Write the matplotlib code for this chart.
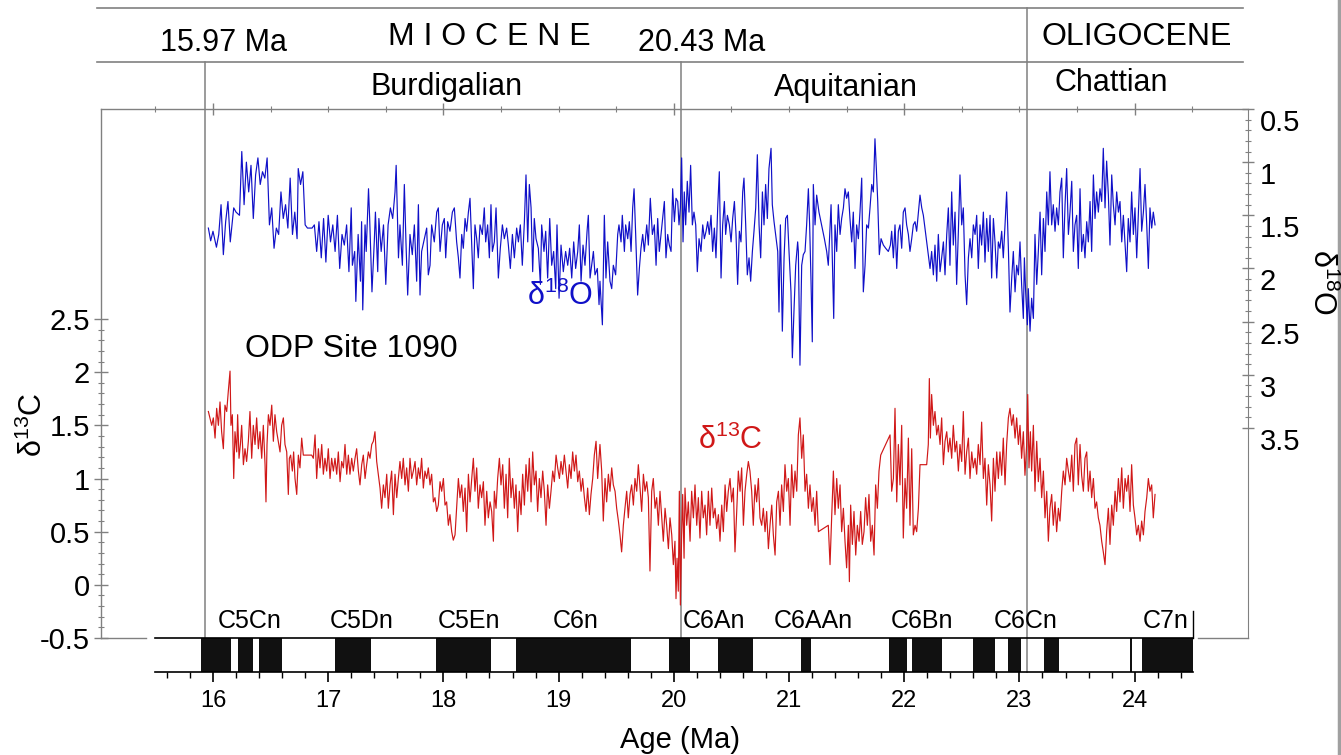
import numpy as np
import matplotlib
matplotlib.use("Agg")
import matplotlib.pyplot as plt
from matplotlib.lines import Line2D
from matplotlib.ticker import FixedLocator
import matplotlib.transforms as mtrans

plt.rcParams['font.family'] = ['Liberation Sans', 'DejaVu Sans']
plt.rcParams['mathtext.fontset'] = 'custom'
plt.rcParams['mathtext.rm'] = 'Liberation Sans'
plt.rcParams['mathtext.it'] = 'Liberation Sans:italic'
plt.rcParams['mathtext.bf'] = 'Liberation Sans:bold'

# ---- ODP Site 1090 benthic isotope records (age in Ma, per mil) ----
d18o_pts = [
    (15.96, 1.62), (15.98, 1.74), (16.00, 1.65), (16.03, 1.80), (16.05, 1.68), (16.07, 1.40), (16.09, 1.87),
    (16.11, 1.56), (16.13, 1.37), (16.15, 1.75), (16.18, 1.43), (16.20, 1.47), (16.23, 1.50), (16.25, 0.90),
    (16.27, 1.40), (16.29, 1.00), (16.31, 1.28), (16.33, 1.03), (16.35, 1.53), (16.37, 1.12), (16.39, 0.96),
    (16.41, 1.21), (16.43, 1.09), (16.45, 1.15), (16.47, 0.96), (16.49, 1.59), (16.51, 1.43), (16.53, 1.81),
    (16.55, 1.62), (16.57, 1.68), (16.59, 1.28), (16.61, 1.53), (16.63, 1.40), (16.65, 1.62), (16.67, 1.15),
    (16.69, 1.68), (16.71, 1.47), (16.73, 1.72), (16.74, 1.06), (16.76, 1.21), (16.78, 1.09), (16.80, 1.59),
    (16.82, 1.62), (16.86, 1.62), (16.88, 1.59), (16.90, 1.84), (16.92, 1.56), (16.94, 1.90), (16.96, 1.53),
    (16.98, 1.94), (17.00, 1.50), (17.02, 1.75), (17.04, 1.59), (17.06, 1.84), (17.08, 1.50), (17.10, 2.00),
    (17.12, 1.68), (17.14, 1.78), (17.16, 1.59), (17.18, 2.03), (17.20, 1.43), (17.21, 1.97), (17.23, 1.84),
    (17.24, 2.31), (17.26, 1.68), (17.28, 2.12), (17.29, 1.56), (17.30, 2.39), (17.32, 1.59), (17.33, 1.84),
    (17.35, 1.25), (17.36, 1.53), (17.38, 2.22), (17.40, 1.75), (17.41, 1.47), (17.43, 2.03), (17.44, 1.53),
    (17.46, 1.84), (17.48, 1.59), (17.50, 2.15), (17.52, 1.59), (17.54, 1.43), (17.56, 1.53), (17.58, 1.28),
    (17.59, 1.03), (17.61, 1.90),
    (17.623, 1.59), (17.644, 1.97), (17.661, 1.21), (17.675, 1.75), (17.690, 2.25), (17.710, 1.68),
    (17.730, 1.87), (17.748, 1.59), (17.768, 2.12), (17.783, 1.40), (17.797, 2.25), (17.811, 1.84),
    (17.835, 1.72), (17.855, 1.62), (17.869, 2.06), (17.884, 1.97), (17.898, 1.59), (17.921, 1.75),
    (17.942, 1.47), (17.956, 1.43), (17.971, 1.84), (17.991, 1.59), (18.008, 1.53), (18.020, 1.90),
    (18.037, 1.56), (18.057, 1.65), (18.078, 1.47), (18.095, 1.43), (18.115, 1.75), (18.130, 1.90),
    (18.144, 2.09), (18.159, 1.68), (18.173, 1.81), (18.188, 1.53), (18.202, 1.65), (18.217, 1.47),
    (18.231, 1.34), (18.246, 1.78), (18.260, 2.19), (18.274, 1.59), (18.289, 1.72), (18.303, 1.90),
    (18.318, 1.59), (18.338, 1.68), (18.355, 1.43), (18.367, 1.75), (18.384, 1.59), (18.399, 1.90),
    (18.413, 1.40), (18.425, 1.84), (18.442, 1.75), (18.457, 1.43), (18.477, 2.09), (18.494, 1.81),
    (18.512, 1.59), (18.529, 1.72), (18.549, 1.62), (18.564, 1.78), (18.581, 2.00), (18.599, 1.68),
    (18.616, 1.90), (18.636, 1.62), (18.651, 1.75), (18.668, 1.59), (18.685, 1.97), (18.703, 1.56),
    (18.717, 1.12), (18.732, 1.75), (18.746, 1.21), (18.761, 1.43), (18.775, 2.03), (18.789, 1.53),
    (18.804, 1.72), (18.824, 1.81), (18.842, 2.15), (18.853, 1.59), (18.873, 1.84), (18.888, 1.65),
    (18.905, 2.09), (18.923, 1.53), (18.940, 1.97), (18.957, 1.84), (18.975, 2.19), (18.986, 1.59),
    (19.004, 2.28), (19.021, 1.78), (19.041, 2.03), (19.061, 1.84), (19.079, 1.97), (19.096, 1.81),
    (19.114, 2.09), (19.131, 1.75), (19.148, 2.00), (19.166, 1.84), (19.180, 1.59), (19.195, 2.12),
    (19.212, 1.78), (19.229, 1.97), (19.247, 1.65), (19.258, 1.50), (19.273, 2.09), (19.287, 1.97),
    (19.302, 1.84), (19.316, 2.06), (19.336, 2.00), (19.351, 2.34),
    (19.359, 2.12), (19.380, 2.53), (19.397, 1.50), (19.411, 2.09), (19.426, 1.75), (19.446, 2.12),
    (19.461, 2.19), (19.475, 1.97), (19.495, 2.06), (19.513, 1.68), (19.524, 1.59), (19.542, 1.75),
    (19.553, 1.50), (19.571, 1.84), (19.582, 1.59), (19.600, 1.72), (19.614, 1.56), (19.629, 1.84),
    (19.643, 1.43), (19.655, 1.25), (19.669, 1.68), (19.686, 2.25), (19.701, 2.00), (19.715, 1.81),
    (19.730, 1.68), (19.744, 1.84), (19.765, 1.59), (19.779, 1.78), (19.796, 1.34), (19.814, 1.68),
    (19.831, 1.59), (19.846, 1.97), (19.860, 1.53), (19.874, 1.84), (19.889, 1.68), (19.903, 1.53),
    (19.918, 1.37), (19.932, 1.90), (19.947, 1.68), (19.961, 1.78), (19.976, 1.84), (19.990, 1.25),
    (20.005, 1.56), (20.019, 1.34), (20.034, 1.37), (20.045, 1.59), (20.057, 1.43), (20.068, 0.96),
    (20.080, 1.75), (20.091, 1.28), (20.103, 1.59), (20.117, 1.18), (20.132, 1.47), (20.146, 1.03),
    (20.161, 1.59), (20.175, 1.47), (20.190, 1.59), (20.204, 2.03), (20.219, 1.72), (20.236, 1.84),
    (20.251, 1.59), (20.265, 1.72), (20.280, 1.65), (20.294, 1.56), (20.308, 1.68), (20.323, 1.50),
    (20.337, 1.84), (20.352, 1.62), (20.366, 1.90), (20.381, 1.43), (20.395, 1.09), (20.410, 2.09),
    (20.424, 1.59), (20.439, 1.37), (20.450, 1.68), (20.465, 1.50), (20.482, 1.59), (20.497, 1.75),
    (20.511, 1.53), (20.526, 1.37), (20.540, 1.68), (20.554, 2.15), (20.569, 1.65), (20.583, 1.75),
    (20.598, 1.28), (20.609, 1.15), (20.624, 1.59), (20.638, 2.06), (20.653, 1.90), (20.667, 2.12),
    (20.682, 1.84), (20.696, 1.65), (20.711, 1.43), (20.725, 0.93), (20.740, 1.59), (20.754, 1.90),
    (20.769, 1.28), (20.783, 1.59), (20.797, 1.21), (20.812, 1.53), (20.826, 1.06), (20.844, 0.87),
    (20.855, 1.40), (20.870, 1.56), (20.884, 1.68), (20.902, 1.84), (20.913, 2.41), (20.925, 1.59),
    (20.942, 2.59), (20.957, 1.90), (20.971, 1.53), (20.986, 1.50), (21.000, 1.84), (21.017, 2.22),
    (21.029, 2.84), (21.044, 2.37), (21.058, 1.97), (21.075, 1.75),
    (21.081, 1.84), (21.095, 2.91), (21.110, 1.97), (21.124, 1.87), (21.139, 1.84), (21.153, 1.59),
    (21.168, 1.25), (21.179, 1.59), (21.191, 2.12), (21.202, 2.69), (21.211, 1.21), (21.226, 1.59),
    (21.240, 1.31), (21.260, 1.47), (21.283, 1.59), (21.307, 1.72), (21.327, 1.84), (21.341, 1.97),
    (21.365, 1.40), (21.376, 1.90), (21.388, 2.47), (21.399, 1.59), (21.414, 1.84), (21.428, 1.40),
    (21.443, 1.68), (21.457, 1.53), (21.472, 1.43), (21.486, 1.25), (21.500, 1.34), (21.515, 1.28),
    (21.529, 1.53), (21.544, 1.75), (21.558, 1.47), (21.573, 2.00), (21.587, 1.59), (21.602, 1.72),
    (21.616, 1.47), (21.631, 1.15), (21.645, 2.22), (21.660, 1.97), (21.674, 1.59), (21.689, 1.62),
    (21.703, 1.43), (21.718, 1.21), (21.732, 1.28), (21.746, 0.78), (21.758, 1.06), (21.770, 1.37),
    (21.784, 1.87), (21.799, 1.72), (21.819, 1.78), (21.839, 1.81), (21.862, 1.84), (21.880, 1.78),
    (21.891, 1.65), (21.906, 1.90), (21.920, 1.59), (21.935, 2.00), (21.949, 1.65), (21.963, 1.59),
    (21.978, 1.81), (21.992, 1.47), (22.007, 1.43), (22.021, 1.59), (22.036, 1.68), (22.050, 1.84),
    (22.065, 1.72), (22.079, 1.59), (22.094, 1.56), (22.108, 1.65), (22.123, 1.47), (22.137, 1.31),
    (22.152, 1.43), (22.166, 1.50), (22.224, 2.00), (22.238, 1.84), (22.253, 2.06), (22.267, 1.78),
    (22.282, 2.12), (22.296, 1.68), (22.311, 2.03), (22.325, 1.90), (22.340, 1.75), (22.354, 2.06),
    (22.369, 1.68), (22.383, 1.43), (22.397, 1.97), (22.412, 1.28), (22.426, 1.78), (22.441, 1.47),
    (22.455, 2.15), (22.470, 1.65), (22.484, 1.12), (22.499, 1.59), (22.513, 1.43), (22.528, 2.06),
    (22.542, 2.34), (22.557, 1.90), (22.571, 1.72), (22.586, 1.90), (22.600, 1.59), (22.615, 1.68),
    (22.629, 1.50), (22.643, 2.00), (22.658, 1.59), (22.672, 1.78), (22.687, 1.47), (22.701, 1.94),
    (22.716, 1.53), (22.730, 1.84), (22.745, 1.50), (22.759, 2.09), (22.774, 1.53), (22.788, 1.75),
    (22.803, 2.09), (22.817, 1.75),
    (22.831, 1.81), (22.846, 1.65), (22.860, 1.90), (22.875, 1.59), (22.889, 1.28), (22.904, 1.81),
    (22.918, 2.41), (22.933, 2.09), (22.947, 1.84), (22.962, 2.22), (22.976, 1.97), (22.991, 2.06),
    (23.005, 1.75), (23.019, 2.15), (23.034, 2.47), (23.043, 1.90), (23.054, 2.22), (23.069, 2.53),
    (23.077, 2.19), (23.092, 2.59), (23.106, 2.28), (23.121, 2.47), (23.135, 1.68), (23.150, 2.15),
    (23.164, 1.84), (23.179, 1.47), (23.193, 2.06), (23.208, 1.53), (23.222, 1.84), (23.237, 1.28),
    (23.251, 1.59), (23.265, 1.09), (23.280, 1.59), (23.294, 1.40), (23.309, 1.65), (23.323, 1.43),
    (23.338, 1.59), (23.352, 1.28), (23.367, 1.15), (23.381, 1.90), (23.396, 1.40), (23.410, 1.06),
    (23.425, 1.68), (23.439, 1.47), (23.454, 1.18), (23.468, 1.84), (23.482, 1.59), (23.497, 1.50),
    (23.511, 2.00), (23.526, 1.25), (23.540, 1.84), (23.555, 1.68), (23.569, 1.90), (23.584, 1.56),
    (23.598, 1.75), (23.613, 1.37), (23.627, 1.84), (23.642, 1.12), (23.656, 1.53), (23.670, 1.28),
    (23.685, 1.47), (23.699, 1.25), (23.714, 1.37), (23.728, 0.87), (23.743, 1.43), (23.757, 0.99),
    (23.772, 1.31), (23.786, 1.78), (23.801, 1.12), (23.815, 1.40), (23.830, 1.59), (23.844, 1.28),
    (23.859, 1.47), (23.873, 1.37), (23.888, 1.75), (23.902, 1.50), (23.917, 1.78), (23.931, 2.03),
    (23.945, 1.53), (23.960, 1.75), (23.974, 1.28), (23.989, 1.68), (24.003, 1.43), (24.018, 1.90),
    (24.032, 1.50), (24.047, 1.06), (24.061, 1.65), (24.076, 1.47), (24.090, 1.21), (24.105, 1.59),
    (24.119, 2.00), (24.133, 1.43), (24.148, 1.62), (24.162, 1.47), (24.177, 1.59),
]

d13c_pts = [
    (15.960, 1.63), (15.989, 1.50), (16.003, 1.57), (16.018, 1.38), (16.032, 1.66), (16.047, 1.50),
    (16.061, 1.72), (16.075, 1.44), (16.090, 1.28), (16.104, 1.69), (16.119, 1.63), (16.133, 1.82),
    (16.148, 2.01), (16.156, 1.50), (16.168, 1.60), (16.180, 1.00), (16.191, 1.44), (16.206, 1.25),
    (16.214, 1.60), (16.226, 1.19), (16.238, 1.32), (16.249, 1.50), (16.264, 1.13), (16.278, 1.28),
    (16.292, 1.16), (16.307, 1.35), (16.321, 1.63), (16.336, 1.19), (16.350, 1.50), (16.365, 1.32),
    (16.379, 1.57), (16.394, 1.28), (16.408, 1.44), (16.423, 1.19), (16.437, 1.50), (16.452, 1.13),
    (16.460, 0.78), (16.469, 1.32), (16.481, 1.60), (16.495, 1.50), (16.510, 1.69), (16.524, 1.35),
    (16.538, 1.60), (16.553, 1.44), (16.567, 1.35), (16.582, 1.25), (16.596, 1.50), (16.611, 1.57),
    (16.625, 1.32), (16.640, 1.25), (16.654, 0.85), (16.663, 1.19), (16.674, 1.22), (16.689, 1.07),
    (16.700, 1.25), (16.712, 1.00), (16.727, 0.85), (16.741, 1.22), (16.755, 1.10), (16.770, 1.38),
    (16.784, 1.22), (16.828, 1.22), (16.857, 1.22), (16.871, 1.19), (16.886, 1.41), (16.900, 1.00),
    (16.915, 1.28), (16.929, 1.10), (16.944, 1.32), (16.958, 1.04), (16.972, 1.19), (16.987, 1.07),
    (17.001, 1.28), (17.016, 1.00), (17.030, 1.19), (17.045, 1.07), (17.059, 1.19), (17.074, 1.04),
    (17.088, 1.25), (17.103, 0.97), (17.117, 1.16), (17.132, 1.10), (17.146, 1.32), (17.161, 1.04),
    (17.175, 1.22), (17.189, 1.04), (17.204, 1.19), (17.218, 1.07), (17.233, 1.19), (17.247, 1.28),
    (17.262, 1.07), (17.276, 0.94), (17.291, 1.13), (17.305, 1.22), (17.320, 1.00), (17.334, 1.13),
    (17.349, 1.25), (17.363, 1.19), (17.378, 1.32), (17.392, 1.35), (17.406, 1.44), (17.421, 1.16),
    (17.435, 1.04), (17.450, 0.91), (17.464, 0.72), (17.479, 0.94), (17.493, 0.82), (17.508, 1.04),
    (17.522, 0.72), (17.537, 0.94), (17.551, 1.07), (17.566, 0.66), (17.580, 1.04), (17.595, 0.82),
    (17.609, 1.00),
    (17.623, 1.16), (17.638, 1.00), (17.652, 1.19), (17.667, 0.94), (17.681, 1.10), (17.696, 0.88),
    (17.710, 1.19), (17.725, 1.00), (17.739, 1.07), (17.754, 1.16), (17.768, 0.94), (17.783, 1.10),
    (17.797, 1.00), (17.811, 1.19), (17.826, 0.91), (17.840, 1.07), (17.855, 1.00), (17.869, 1.10),
    (17.884, 0.94), (17.898, 1.04), (17.913, 0.78), (17.927, 0.82), (17.942, 0.69), (17.956, 0.75),
    (17.971, 0.97), (17.985, 0.88), (18.000, 1.00), (18.014, 0.75), (18.028, 0.78), (18.043, 0.56),
    (18.057, 0.66), (18.072, 0.50), (18.086, 0.42), (18.101, 0.47), (18.115, 0.72), (18.130, 1.00),
    (18.144, 0.82), (18.159, 0.94), (18.173, 0.69), (18.188, 0.91), (18.202, 0.50), (18.217, 1.04),
    (18.231, 0.78), (18.246, 1.00), (18.260, 1.19), (18.274, 0.88), (18.289, 1.10), (18.303, 0.72),
    (18.318, 0.94), (18.332, 0.82), (18.347, 0.97), (18.361, 0.56), (18.376, 0.88), (18.390, 0.63),
    (18.405, 0.78), (18.419, 0.69), (18.434, 0.41), (18.442, 0.88), (18.457, 0.72), (18.471, 1.00),
    (18.486, 1.19), (18.500, 0.94), (18.515, 1.13), (18.529, 0.72), (18.544, 1.04), (18.558, 0.63),
    (18.572, 1.19), (18.587, 0.82), (18.601, 1.00), (18.616, 0.72), (18.630, 0.94), (18.645, 0.50),
    (18.659, 0.88), (18.674, 0.66), (18.688, 1.04), (18.703, 0.75), (18.717, 1.13), (18.732, 0.88),
    (18.746, 1.19), (18.761, 0.78), (18.775, 1.25), (18.789, 0.94), (18.804, 1.07), (18.818, 0.69),
    (18.833, 1.00), (18.847, 0.82), (18.862, 1.07), (18.876, 0.88), (18.891, 0.56), (18.905, 0.94),
    (18.920, 0.72), (18.934, 0.88), (18.949, 1.07), (18.963, 0.97), (18.978, 1.22), (18.992, 1.10),
    (19.007, 1.00), (19.021, 1.16), (19.035, 1.04), (19.050, 1.22), (19.064, 1.07), (19.079, 0.91),
    (19.093, 1.13), (19.108, 1.00), (19.122, 1.25), (19.137, 1.07), (19.151, 1.22), (19.166, 0.97),
    (19.180, 1.07), (19.195, 0.88), (19.209, 1.00), (19.224, 0.82), (19.238, 0.69), (19.252, 0.91),
    (19.267, 0.66), (19.281, 0.85), (19.296, 1.00), (19.310, 1.22), (19.325, 1.35), (19.339, 1.00),
    (19.359, 1.32), (19.374, 1.07), (19.388, 0.60), (19.403, 1.00), (19.417, 0.78), (19.432, 1.04),
    (19.446, 0.88), (19.461, 1.10), (19.475, 0.94), (19.490, 0.88), (19.504, 0.72), (19.519, 0.60),
    (19.533, 0.47), (19.547, 0.31), (19.562, 0.56), (19.576, 0.72), (19.591, 0.88), (19.605, 0.63),
    (19.620, 0.85), (19.634, 0.94), (19.649, 0.75), (19.663, 1.00), (19.678, 0.88), (19.692, 1.13),
    (19.707, 0.91), (19.721, 0.69), (19.736, 1.04), (19.750, 0.88), (19.765, 0.97), (19.779, 0.82),
    (19.793, 0.13), (19.808, 0.88), (19.822, 1.00), (19.837, 0.72), (19.851, 0.82), (19.866, 0.56),
    (19.880, 0.88), (19.895, 0.63), (19.909, 0.41), (19.924, 0.72), (19.938, 0.56), (19.953, 0.34),
    (19.967, 0.63), (19.982, 0.47), (19.996, 0.19), (20.010, 0.41), (20.019, -0.13), (20.028, 0.25),
    (20.039, -0.06), (20.048, 0.88), (20.057, -0.19), (20.068, 0.47), (20.077, 0.85), (20.089, 0.25),
    (20.097, 0.91), (20.112, 0.56), (20.126, 0.78), (20.141, 0.41), (20.155, 0.88), (20.170, 0.63),
    (20.184, 0.94), (20.199, 0.56), (20.213, 0.82), (20.227, 0.44), (20.242, 0.88), (20.256, 0.63),
    (20.271, 0.75), (20.285, 0.47), (20.300, 0.88), (20.314, 0.56), (20.329, 0.91), (20.343, 0.63),
    (20.358, 0.72), (20.372, 0.53), (20.387, 0.66), (20.401, 0.41), (20.416, 0.75), (20.430, 0.50),
    (20.445, 0.94), (20.459, 0.69), (20.473, 0.88), (20.488, 1.00), (20.502, 0.78), (20.517, 0.91),
    (20.531, 0.31), (20.546, 0.69), (20.560, 1.07), (20.575, 0.88), (20.589, 1.10), (20.604, 0.56),
    (20.618, 0.88), (20.633, 1.04), (20.647, 1.16), (20.661, 1.07), (20.676, 0.88), (20.690, 0.56),
    (20.705, 0.94), (20.719, 0.78), (20.734, 1.00), (20.748, 0.63), (20.763, 0.56), (20.777, 0.72),
    (20.792, 0.50), (20.806, 0.69), (20.821, 0.34), (20.835, 0.56), (20.850, 0.75), (20.864, 0.47),
    (20.879, 0.28), (20.893, 0.78), (20.908, 0.88), (20.922, 0.56), (20.936, 0.94), (20.951, 0.69),
    (20.965, 1.13), (20.980, 0.88), (20.994, 1.00), (21.009, 0.56), (21.023, 1.13), (21.038, 0.82),
    (21.052, 1.07), (21.067, 0.88), (21.081, 1.41),
    (21.095, 1.57), (21.110, 1.19), (21.124, 1.41), (21.139, 0.88), (21.153, 1.04), (21.168, 0.72),
    (21.182, 0.94), (21.197, 0.69), (21.211, 0.82), (21.226, 0.56), (21.240, 0.88), (21.255, 0.50),
    (21.341, 0.56), (21.356, 0.19), (21.370, 0.63), (21.385, 1.07), (21.399, 0.66), (21.414, 1.00),
    (21.428, 0.72), (21.443, 0.94), (21.457, 0.50), (21.472, 0.72), (21.486, 0.41), (21.500, 0.16),
    (21.515, 0.56), (21.524, 0.03), (21.535, 0.75), (21.550, 0.38), (21.564, 0.69), (21.579, 0.28),
    (21.593, 0.56), (21.608, 0.41), (21.622, 0.69), (21.636, 0.38), (21.651, 0.50), (21.665, 0.82),
    (21.680, 0.56), (21.694, 0.85), (21.709, 0.41), (21.723, 0.56), (21.738, 0.28), (21.752, 0.94),
    (21.767, 0.72), (21.781, 1.07), (21.796, 1.22), (21.877, 1.41), (21.891, 0.88), (21.906, 1.00),
    (21.920, 1.66), (21.935, 0.78), (21.949, 1.32), (21.963, 0.94), (21.978, 1.50), (21.992, 0.44),
    (22.007, 1.00), (22.021, 0.72), (22.036, 1.38), (22.050, 0.56), (22.065, 1.28), (22.079, 0.47),
    (22.094, 0.56), (22.108, 0.50), (22.123, 0.72), (22.137, 1.13), (22.195, 1.13), (22.209, 1.32),
    (22.218, 1.94), (22.227, 1.38), (22.238, 1.79), (22.253, 1.50), (22.267, 1.63), (22.282, 1.41),
    (22.296, 1.50), (22.311, 1.32), (22.325, 1.57), (22.340, 1.13), (22.354, 1.35), (22.369, 1.44),
    (22.383, 1.25), (22.397, 1.38), (22.412, 1.19), (22.426, 1.50), (22.441, 1.25), (22.455, 1.35),
    (22.470, 1.07), (22.484, 1.32), (22.499, 1.16), (22.513, 1.63), (22.528, 1.04), (22.542, 1.25),
    (22.557, 1.38), (22.571, 1.00), (22.586, 1.25), (22.600, 1.10), (22.615, 1.19), (22.629, 1.04),
    (22.643, 1.32), (22.658, 1.13), (22.672, 1.53), (22.687, 1.00), (22.701, 1.19), (22.716, 0.75),
    (22.730, 1.13), (22.745, 0.94), (22.759, 0.60), (22.774, 1.19), (22.788, 0.88), (22.803, 1.25),
    (22.817, 1.00),
    (22.831, 1.25), (22.846, 1.03), (22.860, 1.38), (22.875, 0.94), (22.889, 1.32), (22.904, 1.57),
    (22.918, 1.66), (22.933, 1.50), (22.947, 1.60), (22.962, 1.38), (22.976, 1.57), (22.991, 1.32),
    (23.005, 1.50), (23.019, 1.19), (23.034, 1.44), (23.048, 1.03), (23.063, 1.32), (23.072, 1.79),
    (23.083, 1.10), (23.095, 1.44), (23.106, 1.07), (23.121, 1.50), (23.135, 0.88), (23.150, 1.35),
    (23.164, 0.97), (23.179, 1.19), (23.193, 0.82), (23.208, 1.07), (23.222, 0.63), (23.237, 0.88),
    (23.251, 0.41), (23.265, 0.72), (23.280, 0.85), (23.294, 0.56), (23.309, 0.78), (23.323, 0.50),
    (23.338, 0.72), (23.352, 0.60), (23.367, 0.88), (23.381, 1.07), (23.396, 0.94), (23.410, 1.19),
    (23.425, 1.07), (23.439, 0.97), (23.454, 1.22), (23.468, 0.88), (23.482, 1.32), (23.497, 1.38),
    (23.511, 0.94), (23.526, 1.32), (23.540, 1.03), (23.555, 0.88), (23.569, 1.19), (23.584, 1.25),
    (23.598, 0.88), (23.613, 1.07), (23.627, 0.82), (23.642, 1.00), (23.656, 0.72), (23.670, 0.78),
    (23.685, 0.63), (23.699, 0.56), (23.714, 0.41), (23.728, 0.31), (23.743, 0.19), (23.757, 0.50),
    (23.772, 0.72), (23.786, 0.38), (23.801, 0.75), (23.815, 0.56), (23.830, 0.88), (23.844, 0.69),
    (23.859, 1.00), (23.873, 0.78), (23.888, 1.10), (23.902, 0.72), (23.917, 1.00), (23.931, 0.88),
    (23.945, 1.03), (23.960, 0.69), (23.974, 1.13), (23.989, 0.75), (24.003, 0.63), (24.018, 0.47),
    (24.032, 0.56), (24.047, 0.41), (24.061, 0.60), (24.076, 0.47), (24.090, 0.69), (24.105, 0.82),
    (24.119, 1.00), (24.133, 0.88), (24.148, 0.94), (24.162, 0.63), (24.177, 0.85),
]

age_o18, d18o = np.array(d18o_pts).T
age_c13, d13c = np.array(d13c_pts).T

# normal polarity intervals of the magnetostratigraphy (Ma)
chron_start = [15.90, 16.22, 16.40, 17.06, 17.94, 18.63, 19.96, 20.38, 21.10,
               21.87, 22.07, 22.60, 22.90, 23.21, 23.96, 24.06]
chron_end = [16.16, 16.35, 16.60, 17.37, 18.41, 19.63, 20.14, 20.69, 21.19,
             22.02, 22.33, 22.79, 23.01, 23.34, 23.98, 24.51]
chron_names = ['C5Cn', 'C5Dn', 'C5En', 'C6n', 'C6An', 'C6AAn', 'C6Bn', 'C6Cn', 'C7n']
chron_label_age = [16.32, 17.29, 18.22, 19.15, 20.35, 21.21, 22.15, 23.05, 24.27]

# stratigraphic frame
boundary_age = [15.935, 20.063, 23.069]
stage_names = ['Burdigalian', 'Aquitanian', 'Chattian']
stage_label_age = [18.03, 21.49, 23.80]
epoch_names = ['M I O C E N E', 'OLIGOCENE']
epoch_label_age = [18.40, 24.02]
boundary_names = ['15.97 Ma', '20.43 Ma']
boundary_label_age = [16.09, 20.245]

c13_ticks = [-0.5, 0, 0.5, 1, 1.5, 2, 2.5]
o18_ticks = [0.5, 1, 1.5, 2, 2.5, 3, 3.5]
age_ticks = [16, 17, 18, 19, 20, 21, 22, 23, 24]

# upright delta, mathtext only for the superscript
LBL_C13 = 'δ$^{13}$C'
LBL_O18 = 'δ$^{18}$O'

BLUE = '#1010c8'
RED = '#d01818'
GREY = '#808080'

W, H = 1341, 755
fig = plt.figure(figsize=(W / 100, H / 100), dpi=100)
fig.patch.set_facecolor('white')

X0, X1 = 15.028, 24.984  # age range spanned by the plot frame
BAR0, BAR1 = 15.5, 24.51

# ---- main isotope panel ----
ax = fig.add_axes([101 / W, 1 - 638 / H, (1248 - 101) / W, (638 - 109) / H])
ax.set_xlim(X0, X1)
ax.set_ylim(-0.5, 4.475)
ax.patch.set_visible(False)
ax.set_zorder(3)
for s in ax.spines.values():
    s.set_color(GREY)
    s.set_linewidth(1)
ax.spines['right'].set_visible(False)
ax.spines['bottom'].set_bounds(X0, 15.42)

ax.plot(age_c13, d13c, color=RED, lw=0.85)

ax.set_yticks(c13_ticks, labels=['-0.5', '0', '0.5', '1', '1.5', '2', '2.5'])
ax.yaxis.set_minor_locator(FixedLocator(np.arange(-0.5, 2.501, 0.1)))
ax.tick_params(axis='y', which='major', direction='inout', length=10, width=1,
               color=GREY, labelsize=21, pad=3)
ax.tick_params(axis='y', which='minor', direction='inout', length=5, width=0.8, color=GREY)

ax.xaxis.set_ticks_position('top')
ax.xaxis.set_major_locator(FixedLocator([16, 18, 20, 22, 24]))
ax.xaxis.set_minor_locator(FixedLocator(np.arange(15.5, 24.51, 0.5)))
ax.tick_params(axis='x', which='major', direction='inout', length=9, width=1, color=GREY,
               labeltop=False, labelbottom=False)
ax.tick_params(axis='x', which='minor', direction='inout', length=5, width=0.8, color=GREY)

ax.plot([24.55, X1], [0, 0], color=GREY, lw=1, clip_on=False,
        transform=mtrans.blended_transform_factory(ax.transData, ax.transAxes))

ax.text(16.278, 2.22, 'ODP Site 1090', fontsize=23, ha='left', va='center')
ax.text(20.21, 1.36, LBL_C13, fontsize=22, color=RED, ha='left', va='center')

# δ18O on an inverted right axis
ax2 = ax.twinx()
ax2.set_zorder(4)
ax2.patch.set_visible(False)
ax2.set_ylim(5.476, 0.5)
for s in ax2.spines.values():
    s.set_visible(False)
ax2.spines['right'].set_visible(True)
ax2.spines['right'].set_color(GREY)
ax2.plot(age_o18, d18o, color=BLUE, lw=0.85)
ax2.set_yticks(o18_ticks, labels=['0.5', '1', '1.5', '2', '2.5', '3', '3.5'], va='top')
ax2.yaxis.set_minor_locator(FixedLocator(np.arange(0.5, 3.501, 0.1)))
ax2.tick_params(axis='y', which='major', direction='inout', length=9, width=1,
                color=GREY, labelsize=21, pad=4)
ax2.tick_params(axis='y', which='minor', direction='inout', length=4, width=0.8, color=GREY)
ax2.text(18.73, 2.26, LBL_O18, fontsize=22, color=BLUE, ha='left', va='center')

# ---- magnetostratigraphy bar with the age axis ----
axb = fig.add_axes([101 / W, 1 - 672 / H, (1248 - 101) / W, 34 / H])
axb.set_xlim(X0, X1)
axb.set_ylim(0, 1)
axb.patch.set_visible(False)
axb.set_zorder(2)
axb.spines['left'].set_visible(False)
axb.spines['right'].set_visible(False)
for side in ('top', 'bottom'):
    axb.spines[side].set_bounds(BAR0, BAR1)
    axb.spines[side].set_color('black')
    axb.spines[side].set_linewidth(1.2)
axb.broken_barh([(s, e - s) for s, e in zip(chron_start, chron_end)], (0, 1),
                facecolors='#111111', edgecolors='none')
axb.set_yticks([])
axb.set_xticks(age_ticks, labels=[str(a) for a in age_ticks])
axb.xaxis.set_minor_locator(FixedLocator(np.arange(15.6, 24.41, 0.2)))
axb.tick_params(axis='x', which='major', direction='out', length=7, width=1.2,
                labelsize=17, pad=6)
axb.tick_params(axis='x', which='minor', direction='out', length=4, width=1)
for name, a in zip(chron_names, chron_label_age):
    axb.text(a, 1.15, name, fontsize=18, ha='center', va='bottom')
axb.plot([BAR1, BAR1], [1, 1.8], color='black', lw=1, clip_on=False)

fig.text(680 / W, 1 - 740 / H, 'Age (Ma)', fontsize=21, ha='center', va='center')

# ---- axis titles ----
fig.text(33 / W, 1 - 425 / H, LBL_C13, fontsize=22, rotation=90,
         ha='center', va='center')
fig.text(1322 / W, 1 - 282 / H, LBL_O18, fontsize=22, rotation=-90,
         ha='center', va='center')

# ---- chronostratigraphic header ----
hx = mtrans.blended_transform_factory(ax.transData, fig.transFigure)
for yy in (1 - 8 / H, 1 - 62 / H):
    fig.add_artist(Line2D([97 / W, 1243 / W], [yy, yy], transform=fig.transFigure,
                          color=GREY, lw=1.2))
line_tops = [1 - 62 / H, 1 - 62 / H, 1 - 8 / H]
line_bottoms = [1 - 638 / H, 1 - 638 / H, 1 - 672 / H]
for b, yt, yb in zip(boundary_age, line_tops, line_bottoms):
    fig.add_artist(Line2D([b, b], [yb, yt], transform=hx, color=GREY, lw=1.1, zorder=1))

for name, a in zip(boundary_names, boundary_label_age):
    fig.text(a, 1 - 43 / H, name, transform=hx, fontsize=22, ha='center', va='center')
for name, a in zip(epoch_names, epoch_label_age):
    fig.text(a, 1 - 37 / H, name, transform=hx, fontsize=23, ha='center', va='center')
stage_y = [87, 88, 83]
for name, a, yy in zip(stage_names, stage_label_age, stage_y):
    fig.text(a, 1 - yy / H, name, transform=hx, fontsize=22, ha='center', va='center')

# frame edge on the right of the panel
fig.add_artist(Line2D([1338.5 / W, 1338.5 / W], [0, 1], transform=fig.transFigure,
                      color='#a0a0a0', lw=2.5))

fig.savefig('out.png', dpi=100)
